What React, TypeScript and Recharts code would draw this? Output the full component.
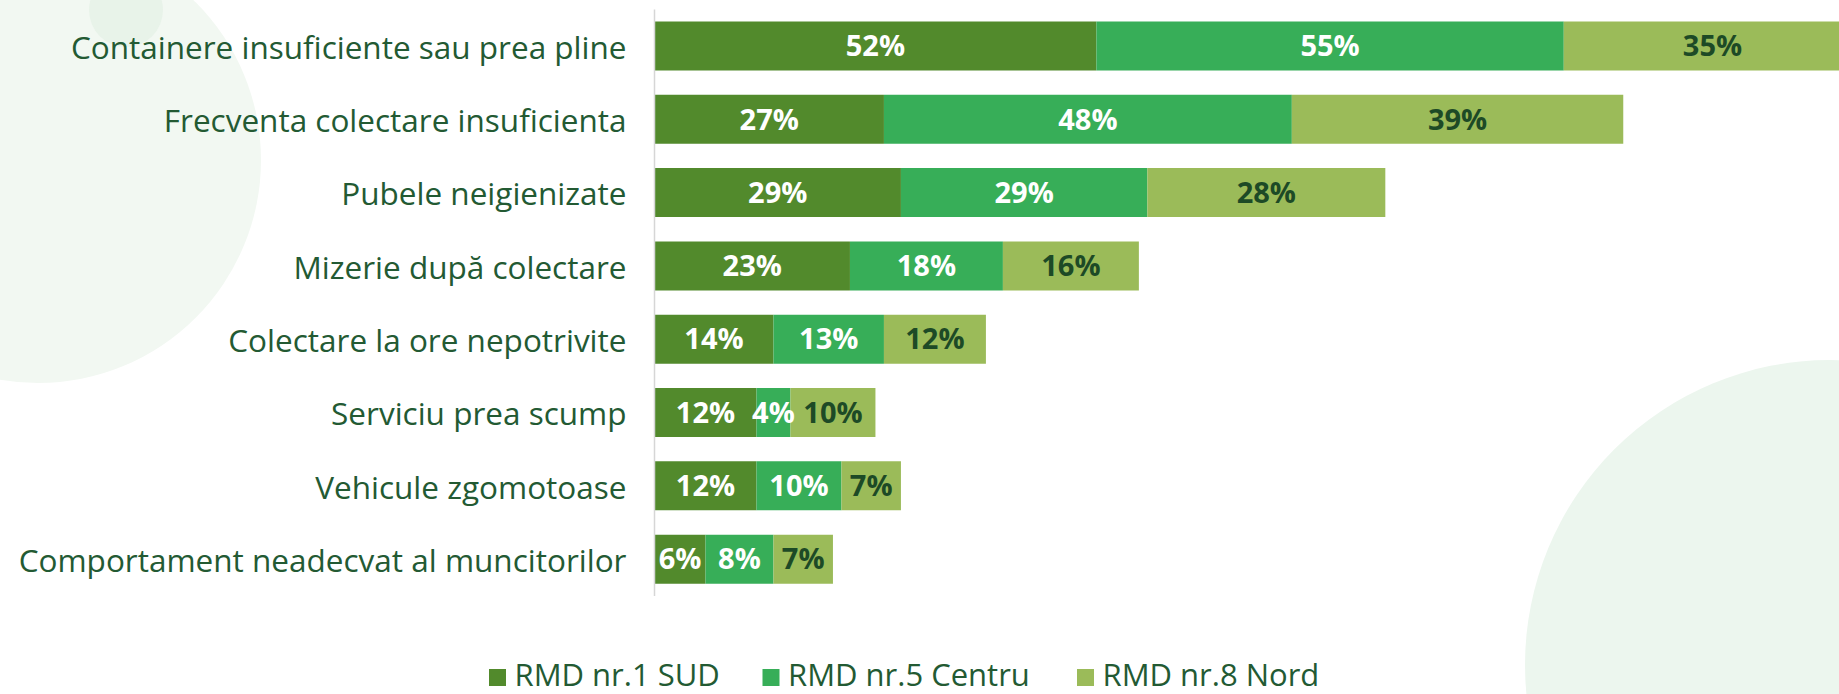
import React from 'react';
import { BarChart, Bar, XAxis, YAxis, LabelList } from 'recharts';

const categories = [
  'Containere insuficiente sau prea pline',
  'Frecventa colectare insuficienta',
  'Pubele neigienizate',
  'Mizerie după colectare',
  'Colectare la ore nepotrivite',
  'Serviciu prea scump',
  'Vehicule zgomotoase',
  'Comportament neadecvat al muncitorilor',
];
const sudValues = [52, 27, 29, 23, 14, 12, 12, 6];
const centruValues = [55, 48, 29, 18, 13, 4, 10, 8];
const nordValues = [35, 39, 28, 16, 12, 10, 7, 7];
const seriesNames = ['RMD nr.1 SUD', 'RMD nr.5 Centru', 'RMD nr.8 Nord'];
const seriesKeys = ['sud', 'centru', 'nord'];
const seriesColors = ['#528a2c', '#37ae58', '#9bbb59'];
const labelColors = ['#ffffff', '#ffffff', '#1d4a26'];

const data = categories.map((c, i) => ({
  category: c,
  sud: sudValues[i],
  centru: centruValues[i],
  nord: nordValues[i],
}));

const FONT = "'Open Sans', sans-serif";
const TEXT_COLOR = '#235a33';

function CategoryTick(props: any) {
  const { x, y, payload } = props;
  return (
    <text x={x} y={y} textAnchor="end" dominantBaseline="central" fill={TEXT_COLOR}
      fontSize={31.5} fontFamily={FONT}>
      {payload.value}
    </text>
  );
}

const legendMarkerX = [489, 762.5, 1077];

export default function App() {
  return (
    <div style={{ position: 'absolute', left: 0, top: 0, width: 1839, height: 694, overflow: 'hidden', background: '#ffffff' }}>
      <svg width={1839} height={694} style={{ position: 'absolute', left: 0, top: 0 }}>
        <circle cx={38} cy={160} r={223} fill="#f2f8f2" />
        <circle cx={126} cy={10} r={37} fill="#e8f3e9" />
        <circle cx={1830} cy={665} r={305} fill="#ecf6ee" />
      </svg>
      <div style={{ position: 'absolute', left: 0, top: 0 }}>
        <BarChart width={1900} height={694} data={data} layout="vertical"
          margin={{ top: 9.4, right: 38.8, bottom: 98, left: 0 }} barSize={49}>
          <XAxis type="number" domain={[0, 142]} hide />
          <YAxis type="category" dataKey="category" width={654.5} tickLine={false} tickSize={0}
            tickMargin={28} axisLine={{ stroke: '#d6d6d6', strokeWidth: 1.5 }} tick={<CategoryTick />}
            interval={0} />
          {seriesKeys.map((k, i) => (
            <Bar key={k} dataKey={k} name={seriesNames[i]} stackId="a" fill={seriesColors[i]}
              isAnimationActive={false}>
              <LabelList dataKey={k} position="center" fill={labelColors[i]} fontSize={29}
                fontWeight={700} fontFamily={FONT} formatter={(v: any) => `${v}%`} />
            </Bar>
          ))}
        </BarChart>
      </div>
      <svg width={1839} height={694} style={{ position: 'absolute', left: 0, top: 0, pointerEvents: 'none' }}>
        {seriesNames.map((n, i) => (
          <g key={n}>
            <rect x={legendMarkerX[i]} y={669} width={17} height={17} fill={seriesColors[i]} />
            <text x={legendMarkerX[i] + 25.5} y={685.5} fontFamily={FONT} fontSize={31} fill={TEXT_COLOR}>{n}</text>
          </g>
        ))}
      </svg>
    </div>
  );
}
